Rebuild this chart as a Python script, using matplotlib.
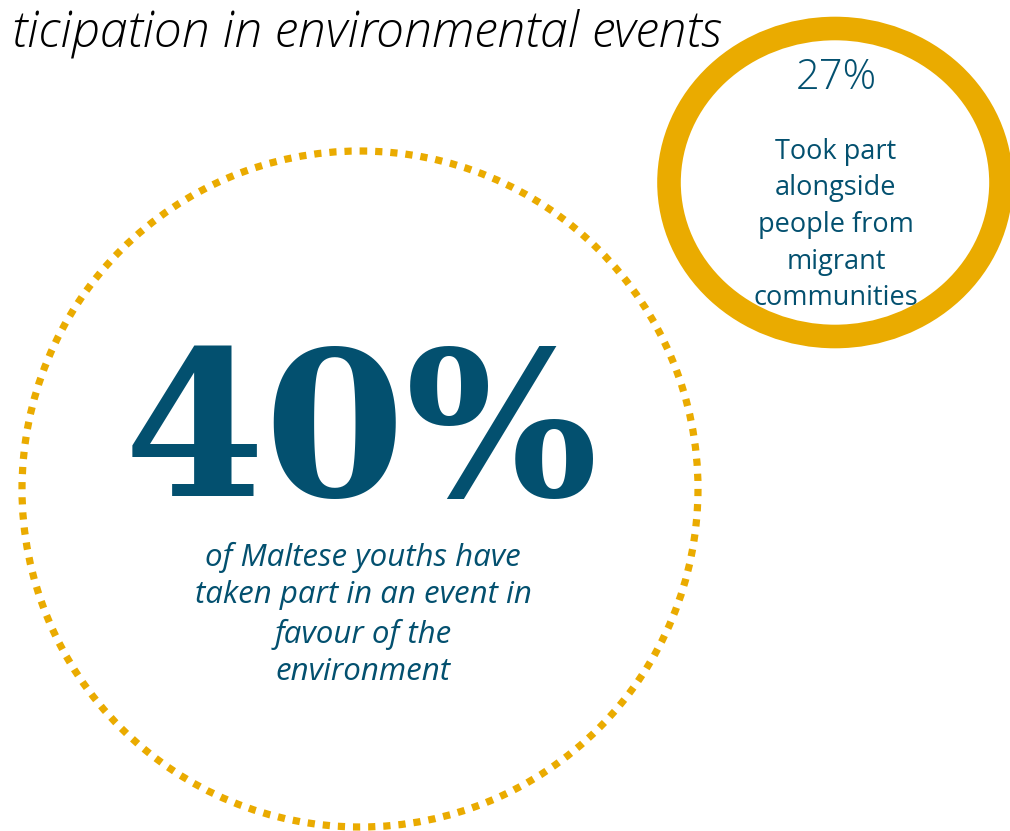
import matplotlib
matplotlib.use("Agg")
import matplotlib.pyplot as plt
from matplotlib.patches import Circle, Ellipse

# Data
title = "ticipation in environmental events"
main_value = 40
main_label = ["of Maltese youths have", "taken part in an event in", "favour of the", "environment"]
side_value = 27
side_label = ["Took part", "alongside", "people from", "migrant", "communities"]

TEAL = "#03506F"
GOLD = "#EAAB00"

fig = plt.figure(figsize=(10.10, 8.31), dpi=100)
ax = fig.add_axes([0, 0, 1, 1])
ax.set_xlim(0, 1010)
ax.set_ylim(831, 0)
ax.set_axis_off()

# Title (cut off at the left)
ax.text(721, 33, title, ha="right", va="center", fontsize=36, style="italic",
        family="Open Sans", weight="light", color="black")

# Big dotted circle
big = Circle((360, 489), 338, fill=False, edgecolor=GOLD, lw=5.2,
             linestyle=(0, (1.0, 1.1)), capstyle="butt")
ax.add_patch(big)

# Big value
ax.text(361, 440, f"{main_value}%", ha="center", va="center", fontsize=146,
        family="DejaVu Serif", weight="bold", color=TEAL)

y0 = 557
for i, line in enumerate(main_label):
    ax.text(363, y0 + i * 38.5, line, ha="center", va="center", fontsize=22.5,
            style="italic", family="Open Sans", color=TEAL)

# Small ring
ring = Ellipse((835, 182.5), 332, 308, fill=False, edgecolor=GOLD, lw=17.0)
ax.add_patch(ring)

ax.text(836, 78, f"{side_value}%", ha="center", va="center", fontsize=30,
        family="Open Sans", weight="light", color=TEAL, zorder=5)
y1 = 152
for i, line in enumerate(side_label):
    ax.text(836, y1 + i * 36.5, line, ha="center", va="center", fontsize=19.5,
            family="Open Sans", color=TEAL, zorder=5)

fig.savefig("out.png", dpi=100)
